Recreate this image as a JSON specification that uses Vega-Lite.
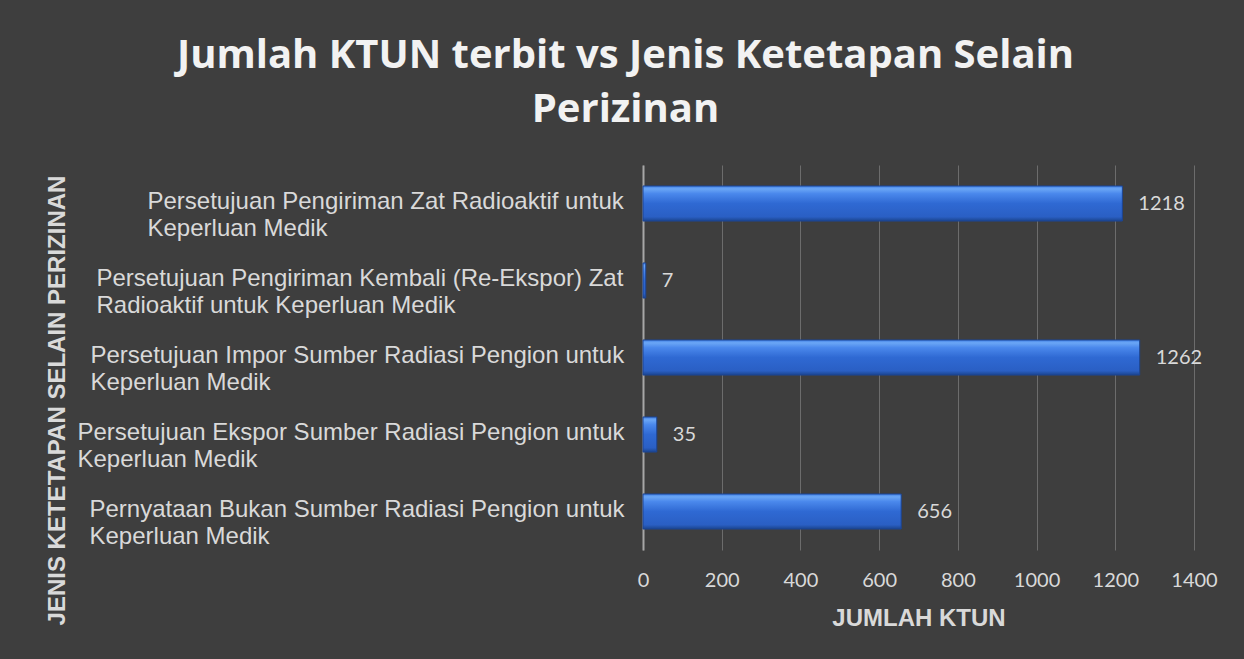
{
  "$schema": "https://vega.github.io/schema/vega-lite/v6.json",
  "autosize": "none",
  "width": 551,
  "height": 385,
  "padding": {"left": 643, "top": 165, "right": 50, "bottom": 109},
  "background": "#3e3e3e",
  "config": {
    "view": {"stroke": null},
    "font": "Liberation Sans"
  },
  "title": {
    "text": ["Jumlah KTUN terbit vs Jenis Ketetapan Selain", "Perizinan"],
    "font": "Open Sans",
    "fontSize": 40,
    "fontWeight": "bold",
    "color": "#f2f2f2",
    "lineHeight": 54,
    "anchor": "middle",
    "frame": "group",
    "dx": -293,
    "offset": 35
  },
  "data": {
    "values": [
      {"jenis": "Persetujuan Pengiriman Zat Radioaktif untuk\nKeperluan Medik", "jumlah": 1218},
      {"jenis": "Persetujuan Pengiriman Kembali (Re-Ekspor) Zat\nRadioaktif untuk Keperluan Medik", "jumlah": 7},
      {"jenis": "Persetujuan Impor Sumber Radiasi Pengion untuk\nKeperluan Medik", "jumlah": 1262},
      {"jenis": "Persetujuan Ekspor Sumber Radiasi Pengion untuk\nKeperluan Medik", "jumlah": 35},
      {"jenis": "Pernyataan Bukan Sumber Radiasi Pengion untuk\nKeperluan Medik", "jumlah": 656}
    ]
  },
  "encoding": {
    "y": {
      "field": "jenis",
      "type": "nominal",
      "sort": null,
      "scale": {"paddingInner": 0.545, "paddingOuter": 0.2725},
      "axis": {
        "title": "JENIS KETETAPAN SELAIN PERIZINAN",
        "titleFont": "Liberation Sans",
        "titleFontSize": 24,
        "titleFontWeight": "bold",
        "titleColor": "#d9d9d9",
        "titleBaseline": "alphabetic",
        "titleAngle": -90,
        "titleX": -579,
        "titleY": 235,
        "labelExpr": "split(datum.label, '\\n')",
        "labelFont": "Liberation Sans",
        "labelFontSize": 24,
        "labelColor": "#d9d9d9",
        "labelLineHeight": 27,
        "labelLimit": 0,
        "labelAlign": "left",
        "labelBaseline": "middle",
        "labelOffset": -2,
        "labelPadding": {
          "condition": [
            {"test": "datum.value === 'Persetujuan Pengiriman Zat Radioaktif untuk\\nKeperluan Medik'", "value": 496},
            {"test": "datum.value === 'Persetujuan Pengiriman Kembali (Re-Ekspor) Zat\\nRadioaktif untuk Keperluan Medik'", "value": 547},
            {"test": "datum.value === 'Persetujuan Impor Sumber Radiasi Pengion untuk\\nKeperluan Medik'", "value": 553},
            {"test": "datum.value === 'Persetujuan Ekspor Sumber Radiasi Pengion untuk\\nKeperluan Medik'", "value": 566}
          ],
          "value": 554
        },
        "ticks": false,
        "tickSize": 0,
        "domain": true,
        "domainColor": "#a6a6a6",
        "domainWidth": 2,
        "grid": false
      }
    },
    "x": {
      "field": "jumlah",
      "type": "quantitative",
      "scale": {"domain": [0, 1400], "nice": false},
      "axis": {
        "title": "JUMLAH KTUN",
        "titleFont": "Liberation Sans",
        "titleFontSize": 24,
        "titleFontWeight": "bold",
        "titleColor": "#d9d9d9",
        "titlePadding": 16,
        "values": [0, 200, 400, 600, 800, 1000, 1200, 1400],
        "format": "d",
        "labelFont": "Lato",
        "labelFontSize": 20,
        "labelColor": "#d9d9d9",
        "labelPadding": 20,
        "labelFlush": false,
        "ticks": false,
        "tickSize": 0,
        "domain": false,
        "grid": true,
        "gridColor": "#6c6c6c",
        "gridWidth": 1
      }
    }
  },
  "layer": [
    {
      "mark": {
        "type": "bar",
        "stroke": "#1c4594",
        "strokeWidth": 1,
        "fill": {
          "gradient": "linear",
          "x1": 0, "y1": 0, "x2": 0, "y2": 1,
          "stops": [
            {"offset": 0, "color": "#3f7fe6"},
            {"offset": 0.08, "color": "#6ba7f6"},
            {"offset": 0.22, "color": "#4a88ec"},
            {"offset": 0.5, "color": "#2f69d3"},
            {"offset": 0.88, "color": "#2a5fc4"},
            {"offset": 1, "color": "#1b458f"}
          ]
        }
      }
    },
    {
      "mark": {
        "type": "text",
        "align": "left",
        "baseline": "middle",
        "dx": 16,
        "font": "Lato",
        "fontSize": 20,
        "color": "#d9d9d9"
      },
      "encoding": {
        "text": {"field": "jumlah", "type": "quantitative"}
      }
    }
  ]
}
